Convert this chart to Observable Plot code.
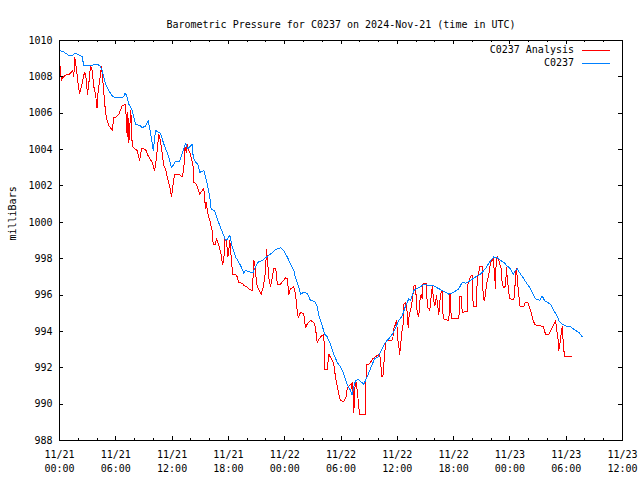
<!DOCTYPE html>
<html><head><meta charset="utf-8">
<script src="https://cdn.jsdelivr.net/npm/d3@7"></script>
<script src="https://cdn.jsdelivr.net/npm/@observablehq/plot@0.6"></script>
<style>body{margin:0;background:#fff} svg{display:block}</style>
</head><body><div id="chart"></div>
<script>
// ---- data ----
const title = "Barometric Pressure for C0237 on 2024-Nov-21 (time in UTC)";
const yLabel = "milliBars";
const seriesNames = ["C0237 Analysis", "C0237"];
const startUTC = Date.UTC(2024, 10, 21, 0, 0);   // 11/21 00:00 UTC
const xDomainHours = [0, 60];
const xTickHours = [0, 6, 12, 18, 24, 30, 36, 42, 48, 54, 60];
const yTicks = [988, 990, 992, 994, 996, 998, 1000, 1002, 1004, 1006, 1008, 1010];

// C0237 observations: hours since start, pressure (mb)
const obsHours = [0.0,0.35,0.93,1.42,1.63,2.13,2.42,2.59,3.12,4.02,
4.3,4.55,4.9,5.25,5.68,6.32,6.85,6.96,7.14,7.39,
7.75,8.1,8.63,8.81,9.17,9.45,9.7,9.99,10.23,10.76,
11.12,11.65,11.94,12.36,12.79,12.97,13.18,13.43,13.67,13.96,
14.14,14.25,14.49,14.74,14.95,15.38,15.74,16.02,16.17,16.52,
16.81,17.16,17.45,17.69,17.94,18.15,18.41,18.76,19.11,19.37,
19.64,19.82,20.36,20.64,20.89,21.13,21.6,21.95,22.49,23.02,
23.55,23.9,24.27,24.62,24.97,25.15,25.5,25.68,26.04,26.4,
26.75,27.21,27.46,27.64,28.0,28.27,28.53,28.88,29.23,29.6,
29.95,30.3,30.66,31.01,31.19,31.37,31.55,31.9,32.19,32.43,
32.61,32.9,33.25,33.6,33.97,34.39,34.74,35.1,35.46,35.81,
36.16,36.52,36.88,37.23,37.41,37.76,38.05,38.47,38.83,39.19,
39.89,40.61,41.49,42.02,42.56,42.92,43.27,43.8,44.34,44.87,
45.4,45.94,46.29,46.65,47.0,47.35,47.71,48.06,48.35,48.6,
48.78,49.13,49.48,49.84,50.2,50.73,51.19,51.44,51.69,51.98,
52.33,52.68,53.04,53.21,53.58,53.93,54.46,54.99,55.35,55.71];
const obsPressure = [1009.45,1009.4,1009.2,1009.2,1009.3,1009.2,1009.1,1008.6,1008.6,1008.7,
1008.6,1008.35,1007.6,1007.25,1006.9,1006.85,1006.9,1007.1,1007.0,1006.5,
1006.15,1005.4,1005.3,1005.2,1005.3,1005.6,1004.95,1003.95,1005.05,1004.9,
1004.3,1003.6,1003.0,1003.35,1003.35,1003.6,1003.95,1004.35,1004.05,1004.2,
1004.3,1003.6,1003.3,1003.2,1002.75,1002.85,1002.1,1001.4,1000.7,1000.65,
1000.2,999.7,999.35,999.0,999.1,999.3,998.65,998.1,997.8,997.55,
997.2,997.35,997.25,997.25,997.55,997.8,997.9,998.05,998.25,998.5,
998.6,998.45,998.1,997.7,997.35,996.95,996.45,996.05,996.15,996.1,
995.7,995.65,995.4,994.85,994.3,993.85,993.7,993.3,992.75,992.3,
992.05,991.65,991.1,990.75,990.5,990.95,991.3,991.35,991.2,991.1,
991.3,991.65,992.1,992.5,992.6,993.05,993.4,993.6,993.85,994.2,
994.6,994.85,995.4,995.8,995.7,996.25,996.35,996.45,996.6,996.55,
996.5,996.3,996.05,996.15,996.35,996.7,996.65,996.8,997.0,997.15,
997.45,997.9,998.1,998.05,997.9,997.8,997.6,997.45,997.15,997.35,
997.45,997.15,996.9,996.6,996.35,995.8,995.7,995.95,995.7,995.6,
995.5,995.15,994.85,994.6,994.4,994.3,994.25,994.05,993.95,993.7];

// C0237 Analysis: hours since start, pressure (mb)
const anaHours = [0.0,0.05,0.21,0.35,0.64,1.07,1.42,1.52,1.63,1.78,
1.99,2.13,2.34,2.59,2.7,2.85,2.98,3.12,3.3,3.48,
3.66,3.84,4.0,4.08,4.19,4.37,4.48,4.61,4.8,4.9,
5.08,5.25,5.44,5.62,5.79,6.04,6.32,6.68,7.03,7.22,
7.28,7.39,7.6,7.75,7.92,8.28,8.53,8.74,8.98,9.24,
9.45,9.88,10.12,10.23,10.41,10.58,10.76,10.95,11.12,11.3,
11.48,11.76,11.94,12.07,12.26,12.71,13.08,13.25,13.36,13.51,
13.61,13.78,13.96,14.25,14.31,14.6,14.74,14.95,15.21,15.38,
15.49,15.56,15.67,15.74,15.91,16.02,16.17,16.27,16.38,16.63,
16.73,17.08,17.23,17.37,17.51,17.62,17.8,17.94,18.04,18.15,
18.33,18.44,18.76,18.94,19.11,19.47,19.72,20.0,20.28,20.54,
20.64,20.71,20.82,20.92,21.07,21.24,21.5,21.71,21.88,21.99,
22.06,22.2,22.31,22.49,22.67,22.84,23.02,23.13,23.2,23.55,
24.09,24.27,24.44,24.62,24.97,25.15,25.33,25.44,25.68,26.04,
26.22,26.4,26.75,27.1,27.28,27.46,27.82,28.17,28.27,28.53,
28.7,29.06,29.23,29.41,29.6,29.77,29.95,30.3,30.56,30.66,
30.84,31.12,31.19,31.26,31.37,31.47,31.62,31.76,31.97,32.61,
32.69,32.97,33.15,33.39,33.68,34.03,34.21,34.32,34.46,34.57,
34.68,34.82,35.38,35.52,35.63,35.81,35.92,36.06,36.16,36.24,
36.34,36.45,36.63,36.7,36.88,37.06,37.16,37.27,37.41,37.52,
37.7,37.76,37.94,38.02,38.12,38.29,38.4,38.55,38.66,38.72,
39.12,39.19,39.36,39.46,39.61,39.72,39.89,40.0,40.18,40.42,
40.61,40.79,40.89,41.49,41.6,41.67,41.74,42.56,42.66,42.81,
42.92,43.45,43.52,43.8,43.98,44.09,44.44,44.51,44.79,45.05,
45.16,45.3,45.43,45.58,45.75,45.94,46.23,46.36,46.47,46.54,
46.71,46.92,47.07,47.18,47.35,47.53,47.64,47.71,47.88,47.99,
48.35,48.49,48.6,48.7,48.84,49.06,49.48,49.63,49.91,50.27,
50.42,50.63,50.91,51.26,51.55,51.8,52.15,52.4,52.62,52.86,
53.15,53.21,53.39,53.5,53.58,53.68,53.82,54.53];
const anaPressure = [1009.05,1008.6,1007.8,1007.95,1008.1,1008.15,1008.35,1008.0,1009.05,1008.55,
1007.6,1007.1,1007.45,1008.1,1008.25,1007.85,1007.05,1007.6,1008.6,1008.35,
1007.45,1007.05,1006.3,1007.0,1007.45,1008.15,1008.55,1007.8,1006.7,1006.05,
1005.6,1005.3,1005.2,1005.05,1005.75,1005.8,1005.95,1006.4,1006.5,1004.7,
1006.05,1004.4,1006.15,1004.2,1004.1,1003.95,1003.4,1004.05,1004.05,1003.95,
1003.65,1003.3,1002.85,1003.1,1003.95,1004.85,1004.5,1003.75,1003.1,1002.95,
1002.5,1001.95,1001.4,1001.95,1002.65,1002.65,1002.5,1002.95,1004.2,1003.85,
1004.3,1003.95,1003.75,1003.05,1002.2,1002.1,1001.85,1001.55,1001.75,1001.85,
1001.2,1000.75,1001.1,1000.65,1000.3,1000.1,999.75,999.55,998.8,998.8,
999.1,998.55,998.2,997.7,997.9,999.1,999.0,998.1,998.45,999.0,
997.9,997.15,997.15,997.0,996.7,996.65,996.5,996.45,996.3,996.25,
997.1,997.9,997.7,997.1,996.45,996.3,996.05,996.45,996.95,997.7,
998.5,997.7,996.95,996.45,996.95,997.45,997.45,997.15,996.6,996.6,
996.95,996.9,996.05,996.35,996.45,996.05,995.15,994.75,995.05,994.95,
994.2,994.4,994.6,994.5,994.2,993.4,993.7,993.85,991.9,991.9,
992.75,992.4,992.2,991.5,991.0,990.55,990.2,990.15,990.4,990.85,
991.0,991.15,990.75,991.2,989.55,990.9,991.2,990.6,989.45,989.45,
992.2,992.2,992.3,992.5,992.6,992.75,992.5,991.55,991.5,992.2,
992.95,993.5,993.5,993.6,994.15,994.4,994.6,993.5,993.25,992.75,
993.1,993.85,994.4,995.5,995.6,995.05,994.2,994.95,995.15,995.4,
996.15,996.5,996.5,995.8,995.05,994.8,995.7,996.05,995.8,996.6,
996.65,995.35,995.25,995.15,995.9,996.45,995.7,995.4,995.95,994.95,
996.05,996.25,994.7,994.6,996.05,996.05,994.7,994.7,995.9,995.9,
995.05,995.1,996.6,997.0,997.1,995.35,995.35,996.8,997.55,997.55,
995.8,995.7,996.25,996.8,997.1,997.8,998.0,997.15,996.35,998.0,
998.1,997.7,997.45,996.6,996.4,996.5,997.5,997.0,996.15,995.8,
995.75,995.9,997.15,997.45,996.6,995.4,995.35,995.6,995.6,995.05,
994.7,994.4,994.3,994.3,994.25,993.85,993.85,994.1,994.3,994.6,
993.5,992.95,993.5,994.05,994.25,993.4,992.6,992.6];

// ---- layout / style ----
const W = 640, H = 480, mL = 59, mR = 18, mT = 40, mB = 40;
const fw = W - mL - mR, fh = H - mT - mB;
const FONT = "'DejaVu Sans Mono', 'Liberation Mono', monospace";
const colors = ["#ff0000", "#0080ff"];

const toDate = h => new Date(startUTC + h * 3600e3);
const obs = obsHours.map((h, i) => ({t: toDate(h), p: obsPressure[i]}));
const ana = anaHours.map((h, i) => ({t: toDate(h), p: anaPressure[i]}));
const majorX = xTickHours.map(toDate);
const minorX = d3.range(xDomainHours[0], xDomainHours[1] + 1, 2).filter(h => h % 6 !== 0).map(toDate);
const fmt = d3.utcFormat("%m/%d\n%H:%M");

const legend = (index, scales, values, dims) => {
  const g = d3.create("svg:g").attr("font-family", FONT).attr("font-size", 10);
  const right = dims.width - dims.marginRight;
  seriesNames.forEach((name, i) => {
    const y = dims.marginTop + 10 + i * 13;
    g.append("text").attr("x", right - 48).attr("y", y).attr("dy", "0.32em")
      .attr("text-anchor", "end").attr("fill", "black").text(name);
    g.append("line").attr("x1", right - 40).attr("x2", right - 12)
      .attr("y1", y + 0.5).attr("y2", y + 0.5).attr("stroke", colors[i])
      .attr("stroke-width", 1).attr("shape-rendering", "crispEdges");
  });
  return g.node();
};

const chart = Plot.plot({
  width: W, height: H,
  marginLeft: mL, marginRight: mR, marginTop: mT, marginBottom: mB,
  style: {fontFamily: FONT, fontSize: "10px", background: "white", color: "black"},
  x: {type: "utc", domain: xDomainHours.map(toDate), axis: null},
  y: {domain: [yTicks[0], yTicks[yTicks.length - 1]], axis: null},
  marks: [
    Plot.line(ana, {x: "t", y: "p", stroke: colors[0], strokeWidth: 1, shapeRendering: "crispEdges"}),
    Plot.line(obs, {x: "t", y: "p", stroke: colors[1], strokeWidth: 1, shapeRendering: "crispEdges"}),
    // ticks (inward, mirrored)
    Plot.tickX(majorX, {x: d => d, insetTop: fh - 4, stroke: "black", shapeRendering: "crispEdges"}),
    Plot.tickX(majorX, {x: d => d, insetBottom: fh - 4, stroke: "black", shapeRendering: "crispEdges"}),
    Plot.tickX(minorX, {x: d => d, insetTop: fh - 2, stroke: "black", shapeRendering: "crispEdges"}),
    Plot.tickX(minorX, {x: d => d, insetBottom: fh - 2, stroke: "black", shapeRendering: "crispEdges"}),
    Plot.tickY(yTicks, {y: d => d, insetRight: fw - 4, stroke: "black", shapeRendering: "crispEdges"}),
    Plot.tickY(yTicks, {y: d => d, insetLeft: fw - 4, stroke: "black", shapeRendering: "crispEdges"}),
    Plot.frame({stroke: "black", shapeRendering: "crispEdges"}),
    // tick labels
    Plot.text(majorX, {x: d => d, frameAnchor: "bottom", dy: 8, lineAnchor: "top",
      lineHeight: 1.4, text: d => fmt(d), fill: "black"}),
    Plot.text(yTicks, {y: d => d, frameAnchor: "left", dx: -7, textAnchor: "end",
      text: d => String(d), fill: "black"}),
    // axis label & title
    Plot.text([yLabel], {frameAnchor: "left", dx: -47, rotate: -90, text: d => d, fill: "black"}),
    Plot.text([title], {frameAnchor: "top", dy: -20, text: d => d, fill: "black"}),
    legend
  ]
});
document.getElementById("chart").append(chart);
</script>
</body></html>
